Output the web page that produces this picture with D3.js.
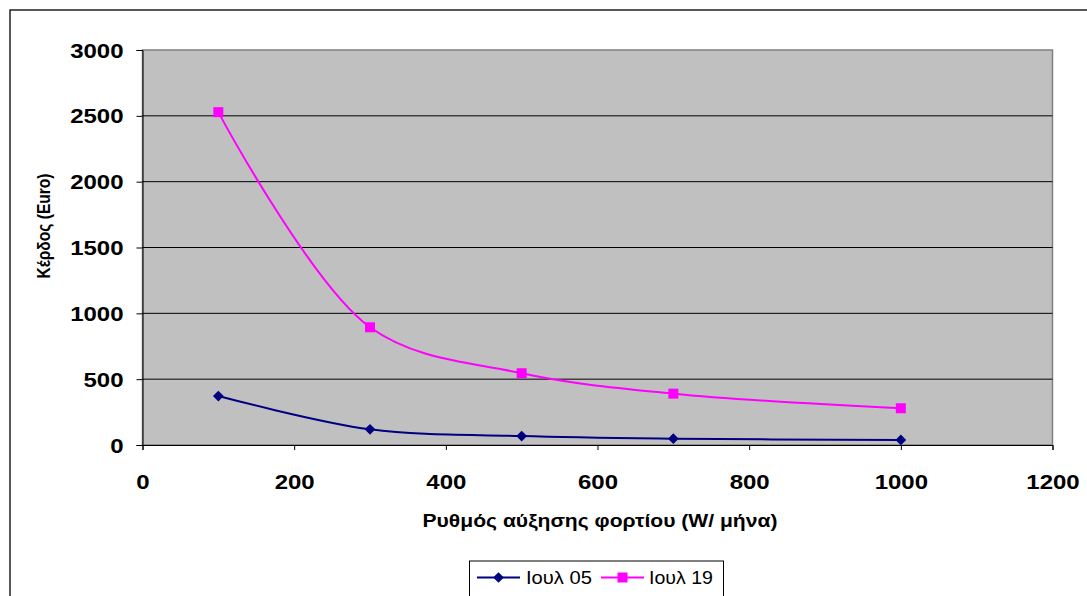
<!DOCTYPE html>
<html><head><meta charset="utf-8">
<script src="https://cdn.jsdelivr.net/npm/d3@7"></script>
<style>body{margin:0;background:#fff}svg{display:block}</style>
</head><body>
<script>
const xValues = [100, 300, 500, 700, 1000];
const seriesNames = ["Ιουλ 05", "Ιουλ 19"];
const iul05 = [372, 119, 68, 48, 38];
const iul19 = [2528, 894, 545, 390, 279];
const xTicks = [0, 200, 400, 600, 800, 1000, 1200];
const yTicks = [0, 500, 1000, 1500, 2000, 2500, 3000];
const xTitle = "Ρυθμός αύξησης φορτίου (W/ μήνα)";
const yTitle = "Κέρδος (Euro)";

const W = 1087, H = 596;
const svg = d3.select("body").append("svg").attr("width", W).attr("height", H);
const font = "'Liberation Sans', Arial, sans-serif";

function stretch(sel, f) {
  sel.each(function () {
    const len = this.getComputedTextLength();
    d3.select(this).attr("textLength", len * f).attr("lengthAdjust", "spacingAndGlyphs");
  });
}

// outer frame
svg.append("rect").attr("x", 10).attr("y", 10).attr("width", 1100).attr("height", 620)
  .attr("fill", "#fff").attr("stroke", "#222").attr("stroke-width", 1.5);

const L = 142.5, R = 1052.5, T = 50, B = 445;
const x = d3.scaleLinear().domain([0, 1200]).range([L, R]);
const y = d3.scaleLinear().domain([0, 3000]).range([B, T]);

svg.append("rect").attr("x", L).attr("y", T).attr("width", R - L).attr("height", B - T)
  .attr("fill", "#C0C0C0").attr("stroke", "#808080").attr("stroke-width", 1.5);

// gridlines
svg.append("g").selectAll("line").data(yTicks.filter(d => d > 0 && d < 3000)).join("line")
  .attr("x1", L).attr("x2", R).attr("y1", d => y(d)).attr("y2", d => y(d))
  .attr("stroke", "#000").attr("stroke-width", 1);

// axes
const xAxis = svg.append("g").attr("transform", `translate(0,${B})`)
  .call(d3.axisBottom(x).tickValues(xTicks).tickSize(5).tickFormat(d3.format("d")));
const yAxis = svg.append("g").attr("transform", `translate(${L},0)`)
  .call(d3.axisLeft(y).tickValues(yTicks).tickSize(6).tickFormat(d3.format("d")));
[xAxis, yAxis].forEach(a => {
  a.attr("font-family", font).attr("font-size", 19.5);
  a.select(".domain").attr("stroke", "#000").attr("stroke-width", 1);
  a.selectAll(".tick line").attr("stroke", "#000");
  a.selectAll("text").attr("font-family", font).attr("font-size", 19.5).attr("font-weight", "bold").attr("fill", "#000");
});
xAxis.selectAll("text").attr("y", 44).attr("dy", 0);
yAxis.selectAll("text").attr("x", -19).attr("dy", "0.36em");
stretch(xAxis.selectAll("text"), 1.23);
stretch(yAxis.selectAll("text"), 1.23);

// titles
const xt = svg.append("text").attr("x", 600).attr("y", 527).attr("text-anchor", "middle")
  .attr("font-family", font).attr("font-size", 18).attr("font-weight", "bold").text(xTitle);
xt.attr("textLength", 355).attr("lengthAdjust", "spacingAndGlyphs");
svg.append("text").attr("transform", "translate(50,226) rotate(-90)").attr("text-anchor", "middle")
  .attr("font-family", font).attr("font-size", 17.5).attr("font-weight", "bold")
  .attr("textLength", 105).attr("lengthAdjust", "spacingAndGlyphs").text(yTitle);

const line = d3.line().x((d, i) => x(xValues[i])).y(d => y(d)).curve(d3.curveCatmullRom.alpha(0.5));
const colors = ["#000080", "#FF00FF"];
const data = [iul05, iul19];

data.forEach((s, k) => {
  svg.append("path").datum(s).attr("d", line).attr("fill", "none")
    .attr("stroke", colors[k]).attr("stroke-width", 2);
});
// markers
svg.append("g").selectAll("rect").data(iul05).join("rect")
  .attr("x", -3.8).attr("y", -3.8).attr("width", 7.6).attr("height", 7.6)
  .attr("transform", (d, i) => `translate(${x(xValues[i])},${y(d)}) rotate(45)`)
  .attr("fill", colors[0]);
svg.append("g").selectAll("rect").data(iul19).join("rect")
  .attr("x", (d, i) => x(xValues[i]) - 5).attr("y", d => y(d) - 5)
  .attr("width", 10).attr("height", 10).attr("fill", colors[1]);

// legend
const lg = svg.append("g");
lg.append("rect").attr("x", 469.5).attr("y", 561).attr("width", 254).attr("height", 60)
  .attr("fill", "#fff").attr("stroke", "#000").attr("stroke-width", 1);
const items = [{x: 477, tx: 526}, {x: 601, tx: 649}];
items.forEach((it, k) => {
  lg.append("line").attr("x1", it.x).attr("x2", it.x + 43).attr("y1", 577.5).attr("y2", 577.5)
    .attr("stroke", colors[k]).attr("stroke-width", 2);
  if (k === 0) {
    lg.append("rect").attr("x", -3.8).attr("y", -3.8).attr("width", 7.6).attr("height", 7.6)
      .attr("transform", `translate(${it.x + 21.5},577.5) rotate(45)`).attr("fill", colors[0]);
  } else {
    lg.append("rect").attr("x", it.x + 16.5).attr("y", 572.5).attr("width", 10).attr("height", 10).attr("fill", colors[1]);
  }
  lg.append("text").attr("x", it.tx).attr("y", 584).attr("font-family", font)
    .attr("font-size", 19).attr("fill", "#000")
    .attr("textLength", k === 0 ? 66 : 64).attr("lengthAdjust", "spacingAndGlyphs").text(seriesNames[k]);
});
</script>
</body></html>
